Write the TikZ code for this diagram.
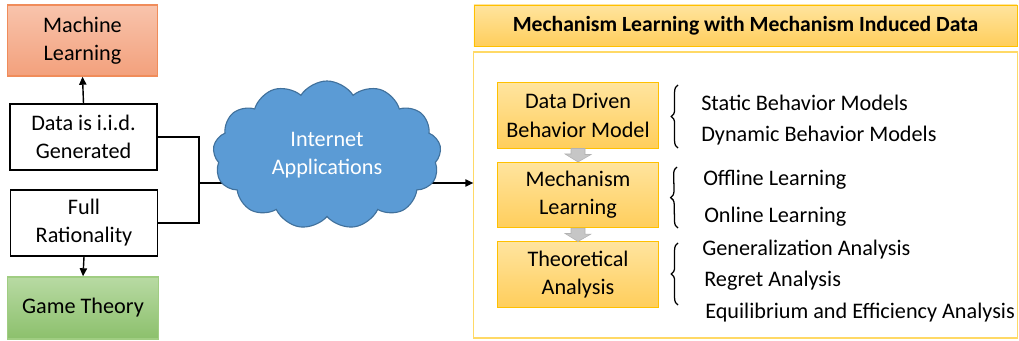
\documentclass[tikz,border=0pt]{standalone}
\usepackage{fontspec}
\setmainfont{Carlito}
\usepackage{xcolor}
\usepackage{tikz}
\usetikzlibrary{arrows.meta, shapes.symbols, calc, decorations.pathreplacing}

\definecolor{mlline}{RGB}{240,140,90}
\definecolor{mltop}{RGB}{248,196,172}
\definecolor{mlbot}{RGB}{243,160,124}
\definecolor{gtline}{RGB}{160,205,130}
\definecolor{gttop}{RGB}{184,218,163}
\definecolor{gtbot}{RGB}{140,192,108}
\definecolor{ylline}{RGB}{255,192,0}
\definecolor{yltop}{RGB}{255,228,158}
\definecolor{ylbot}{RGB}{255,206,92}
\definecolor{cloudfill}{RGB}{91,155,213}
\definecolor{cloudline}{RGB}{65,113,156}

\begin{document}
\begin{tikzpicture}[x=0.025cm, y=-0.025cm,
  font=\fontsize{15.8}{20}\selectfont,
  block/.style={draw, rectangle, line width=1pt, inner sep=0pt, minimum width=3.68cm, minimum height=1.65cm, align=center},
  result/.style={rectangle, line width=1pt, inner sep=0pt, minimum width=3.76cm, align=center},
  stage/.style={rectangle, draw=ylline, line width=0.6pt, top color=yltop, bottom color=ylbot, inner sep=0pt, minimum width=4.03cm, minimum height=1.63cm, align=center},
  item/.style={anchor=west, inner sep=0pt},
  arrow/.style={-{Triangle[length=2mm, width=1.8mm]}, line width=1pt},
  brace/.style={decorate, decoration={brace, amplitude=0.17cm}, line width=0.9pt},
  downarrow/.style={fill=gray!45, draw=gray!60, line width=0.4pt}
]
\useasboundingbox (0,0) rectangle (1019,341);

\node[result, draw=mlline, top color=mltop, bottom color=mlbot, minimum height=1.775cm] (ml) at (82.5,40.5) {Machine\\Learning};
\node[block] (data) at (83.5,137) {Data is i.i.d.\\Generated};
\node[block] (full) at (84,223) {Full\\Rationality};
\node[result, draw=gtline, top color=gttop, bottom color=gtbot, minimum height=1.55cm] (game) at (83,308) {Game Theory};
\draw[arrow] (data.north) -- (ml.south);
\draw[arrow] (full.south) -- (game.north);

\node[rectangle, draw=ylline, line width=0.6pt, top color=yltop, bottom color=ylbot, minimum width=13.575cm, minimum height=1.025cm, inner sep=0pt, font=\fontsize{15.4}{18}\selectfont\bfseries] (title) at (745.5,25.5) {Mechanism Learning with Mechanism Induced Data};
\node[rectangle, draw=ylline!60, line width=0.8pt, minimum width=13.575cm, minimum height=7.15cm, inner sep=0pt] (frame) at (745.5,195) {};

\coordinate (join) at (199,183);
\draw[line width=1pt] (data.east) -| (join) |- (full.east);
\draw[arrow] (join) -- (join -| frame.west);

\node[cloud, cloud puffs=13, cloud puff arc=115, aspect=1.55, draw=cloudline, fill=cloudfill, line width=0.8pt, minimum width=5.7cm, minimum height=3.7cm, text=white, align=center] (cloud) at (327,155) {Internet\\Applications};

\node[stage] (ddbm) at (578,115.5) {Data Driven\\Behavior Model};
\node[stage] (mech) at (578,195) {Mechanism\\Learning};
\node[stage] (theo) at (578,274.5) {Theoretical\\Analysis};
\filldraw[downarrow] ($(ddbm.south)+(-7,0)$) -- ++(14,0) -- ++(0,6) -- ++(6,0) -- (mech.north) -- ++(-13,-8) -- ++(6,0) -- cycle;
\filldraw[downarrow] ($(mech.south)+(-7,0)$) -- ++(14,0) -- ++(0,6) -- ++(6,0) -- (theo.north) -- ++(-13,-8) -- ++(6,0) -- cycle;

\node[item] (static) at (701,103) {Static Behavior Models};
\node[item] (dynamic) at (701,136) {Dynamic Behavior Models};
\node[item] (offline) at (703,180) {Offline Learning};
\node[item] (online) at (704,217) {Online Learning};
\node[item] (general) at (702,250) {Generalization Analysis};
\node[item] (regret) at (704,281) {Regret Analysis};
\node[item] (equil) at (705,313) {Equilibrium and Efficiency Analysis};

\draw[brace] ($(dynamic.west)+(-23,12)$) -- ($(static.west)+(-23,-18)$);
\draw[brace] ($(online.west)+(-26,11)$) -- ($(offline.west)+(-26,-13)$);
\draw[brace] ($(regret.west)+(-26,24)$) -- ($(general.west)+(-24,-7)$);

\end{tikzpicture}
\end{document}
